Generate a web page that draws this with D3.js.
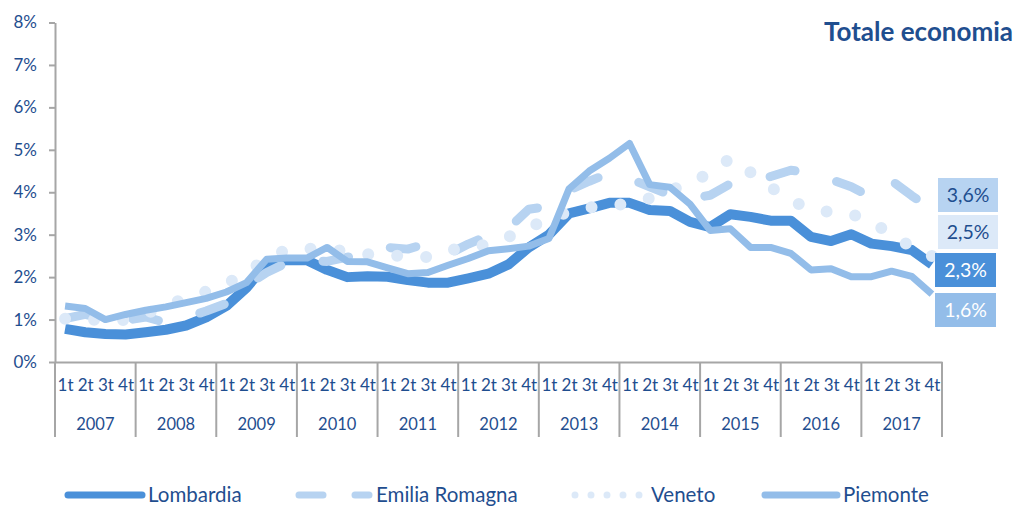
<!DOCTYPE html>
<html>
<head>
<meta charset="utf-8">
<script src="https://cdn.jsdelivr.net/npm/d3@7"></script>
<style>
  html, body { margin: 0; padding: 0; background: #ffffff; }
  svg { display: block; font-family: Lato, "Noto Sans", sans-serif; }
</style>
</head>
<body>
<svg id="chart" width="1017" height="506"></svg>
<script>
// Quarterly rates, 2007-2017
const years = ["2007","2008","2009","2010","2011","2012","2013","2014","2015","2016","2017"];
const quarterNames = ["1t","2t","3t","4t"];
const yTicks = [0, 0.01, 0.02, 0.03, 0.04, 0.05, 0.06, 0.07, 0.08];

const lombardia = [0.78,0.70,0.66,0.65, 0.70,0.76,0.86,1.05, 1.32,1.75,2.32,2.40,
  2.40,2.17,2.00,2.02, 2.01,1.93,1.87,1.87, 1.97,2.08,2.30,2.70, 3.00,3.50,3.62,3.75,
  3.75,3.58,3.56,3.30, 3.18,3.48,3.42,3.33, 3.33,2.95,2.85,3.01, 2.79,2.73,2.64,2.30];
const emilia = [1.02,1.12,1.02,0.98, 1.06,0.93,1.05,1.20, 1.38,1.80,2.11,2.34,
  2.40,2.37,2.47,2.55, 2.70,2.66,2.80,2.54, 2.78,2.98,3.15,3.60, 3.67,4.05,4.26,4.45,
  4.32,4.13,3.94,3.85, 3.93,4.20,4.28,4.37, 4.52,4.45,4.30,4.13, 3.88,4.27,3.92,3.60];
const veneto = [1.02,1.00,0.99,0.99, 1.14,1.32,1.51,1.66, 1.84,2.12,2.43,2.65,
  2.67,2.65,2.61,2.54, 2.51,2.50,2.47,2.62, 2.73,2.76,2.95,3.17, 3.37,3.54,3.64,3.68,
  3.74,3.86,4.04,4.23, 4.45,4.80,4.47,4.12, 3.80,3.61,3.53,3.49, 3.29,3.02,2.70,2.50];
const piemonte = [1.32,1.26,1.00,1.12, 1.22,1.30,1.40,1.50, 1.65,1.87,2.42,2.45,
  2.45,2.70,2.37,2.36, 2.22,2.08,2.11,2.28, 2.44,2.62,2.67,2.73, 2.91,4.08,4.50,4.80,
  5.15,4.18,4.12,3.72, 3.10,3.14,2.70,2.70, 2.56,2.17,2.20,2.01, 2.01,2.14,2.02,1.60];

const seriesNames = ["Lombardia","Emilia Romagna","Veneto","Piemonte"];
const endLabels = ["2,3%","3,6%","2,5%","1,6%"];

const textColor = "#1f4e8f";
const axisColor = "#a6a6a6";

const series = [
  { name: seriesNames[0], values: lombardia, color: "#4a90d9", width: 10, dash: null, cap: "butt", label: endLabels[0], labelText: "#ffffff" },
  { name: seriesNames[1], values: emilia, color: "#b7d3f1", width: 9, dash: "26 43", cap: "round", label: endLabels[1], labelText: textColor },
  { name: seriesNames[2], values: veneto, color: "#dce9f8", width: 12, dash: "0 29", cap: "round", label: endLabels[2], labelText: textColor },
  { name: seriesNames[3], values: piemonte, color: "#93bde9", width: 7, dash: null, cap: "butt", label: endLabels[3], labelText: "#ffffff" }
];

const quarters = [];
years.forEach(yr => quarterNames.forEach(q => quarters.push(yr + "-" + q)));

const svg = d3.select("#chart");
const plotLeft = 55, plotRight = 942, plotTop = 22.5, plotBottom = 362;

const x = d3.scalePoint().domain(quarters).range([plotLeft, plotRight]).padding(0.5);
const xYear = d3.scaleBand().domain(years).range([plotLeft, plotRight]);
const y = d3.scaleLinear().domain([0, 0.08]).range([plotBottom, plotTop]);

// Title
svg.append("text")
  .attr("x", 1013).attr("y", 41)
  .attr("text-anchor", "end")
  .attr("font-size", 26).attr("font-weight", 700)
  .attr("fill", textColor)
  .text("Totale economia");

// Y axis
const yAxis = svg.append("g")
  .attr("transform", `translate(${plotLeft},0)`)
  .call(d3.axisLeft(y).tickValues(yTicks).tickFormat(d3.format(".0%")).tickSize(6).tickSizeOuter(0).tickPadding(12));
yAxis.select(".domain").attr("stroke", axisColor).attr("stroke-width", 2);
yAxis.selectAll(".tick line").attr("stroke", axisColor).attr("stroke-width", 2);
yAxis.selectAll(".tick text").attr("fill", textColor).attr("font-size", 17).attr("font-family", "Lato, sans-serif");

// X axis: quarter labels
const xAxis = svg.append("g")
  .attr("transform", `translate(0,${plotBottom})`)
  .call(d3.axisBottom(x).tickSize(0).tickSizeOuter(0).tickPadding(17).tickFormat(d => d.split("-")[1]));
xAxis.select(".domain").attr("stroke", axisColor).attr("stroke-width", 2);
xAxis.selectAll(".tick text").attr("fill", textColor).attr("font-size", 17).attr("font-family", "Lato, sans-serif");

// Year separators and year labels
const bounds = years.map(yr => xYear(yr)).concat([plotRight]);
svg.append("g").selectAll("line").data(bounds).join("line")
  .attr("x1", d => d).attr("x2", d => d)
  .attr("y1", plotBottom).attr("y2", 437)
  .attr("stroke", axisColor).attr("stroke-width", 2);
svg.append("g").selectAll("text").data(years).join("text")
  .attr("x", d => xYear(d) + xYear.bandwidth() / 2)
  .attr("y", 430)
  .attr("text-anchor", "middle")
  .attr("font-size", 16.5)
  .attr("fill", textColor)
  .text(d => d);

// Lines
const line = d3.line()
  .x((d, i) => x(quarters[i]))
  .y(d => y(d / 100));

const lines = svg.append("g");
series.forEach(s => {
  lines.append("path")
    .datum(s.values)
    .attr("d", line)
    .attr("fill", "none")
    .attr("stroke", s.color)
    .attr("stroke-width", s.width)
    .attr("stroke-linejoin", "round")
    .attr("stroke-linecap", s.cap)
    .attr("stroke-dasharray", s.dash);
});

// End-of-line value boxes
const boxes = [
  { s: series[1], x: 938, y: 178, w: 60, h: 34 },
  { s: series[2], x: 938, y: 215, w: 60, h: 34 },
  { s: series[0], x: 935, y: 253, w: 61, h: 34 },
  { s: series[3], x: 935, y: 293, w: 61, h: 34 }
];
const boxG = svg.append("g");
boxes.forEach(b => {
  boxG.append("rect")
    .attr("x", b.x).attr("y", b.y).attr("width", b.w).attr("height", b.h)
    .attr("fill", b.s.color);
  boxG.append("text")
    .attr("x", b.x + b.w / 2).attr("y", b.y + b.h / 2 + 7)
    .attr("text-anchor", "middle")
    .attr("font-size", 19.5)
    .attr("fill", b.s.labelText)
    .text(b.s.label);
});

// Legend
const legendItems = [
  { s: series[0], x1: 68, x2: 142, tx: 148, w: 7, dash: null },
  { s: series[1], x1: 299, x2: 369, tx: 376, w: 7, dash: "24 32" },
  { s: series[2], x1: 575, x2: 640, tx: 651, w: 7, dash: "0 16" },
  { s: series[3], x1: 765, x2: 837, tx: 843, w: 7, dash: null }
];
const legendY = 495;
const lg = svg.append("g");
legendItems.forEach(it => {
  lg.append("line")
    .attr("x1", it.x1).attr("x2", it.x2)
    .attr("y1", legendY).attr("y2", legendY)
    .attr("stroke", it.s.color)
    .attr("stroke-width", it.w)
    .attr("stroke-linecap", "round")
    .attr("stroke-dasharray", it.dash);
  lg.append("text")
    .attr("x", it.tx).attr("y", legendY + 7)
    .attr("font-size", 20.5)
    .attr("fill", textColor)
    .text(it.s.name);
});
</script>
</body>
</html>
